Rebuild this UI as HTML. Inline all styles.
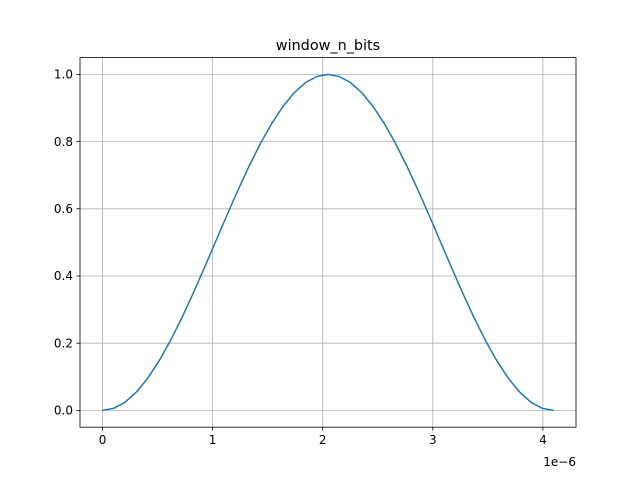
<!DOCTYPE html>
<html><head><meta charset="utf-8">
<style>
body{margin:0;background:#fff}
svg{display:block;font-family:"DejaVu Sans","Liberation Sans",sans-serif}
</style></head>
<body>
<svg id="chart" width="640" height="480" viewBox="0 0 640 480">
<rect width="640" height="480" fill="#fff"/>
<text x="328" y="50" font-size="14.4" text-anchor="middle" fill="#000">window_n_bits</text>
<g id="grid"></g>
<g id="xticks"></g>
<g id="yticks"></g>
<polyline id="line" fill="none" stroke="#1f77b4" stroke-width="1.5" stroke-linejoin="round"/>
<rect x="80" y="57.6" width="496" height="369.6" fill="none" stroke="#000" stroke-width="0.8"/>
<text x="576" y="466" font-size="12" text-anchor="end" fill="#000">1e−6</text>
</svg>
<script>
const xTicks=[0,1,2,3,4];
const xTickLabels=["0","1","2","3","4"];
const yTicks=[0,0.2,0.4,0.6,0.8,1.0];
const yTickLabels=["0.0","0.2","0.4","0.6","0.8","1.0"];
const xMax=4.096;
const yValues=[0,.0062,.0245,.0545,.0955,.1464,.2061,.2730,.3455,.4218,.5,.5782,.6545,.7270,.7939,.8536,.9045,.9455,.9755,.9938,1,.9938,.9755,.9455,.9045,.8536,.7939,.7270,.6545,.5782,.5,.4218,.3455,.2730,.2061,.1464,.0955,.0545,.0245,.0062,0];
const L=80,R=576,T=57.6,B=427.2;
const xmin=-0.05*xMax,xmaxv=1.05*xMax,ymin=-0.05,ymax=1.05;
const sx=v=>L+(v-xmin)/(xmaxv-xmin)*(R-L);
const sy=v=>B-(v-ymin)/(ymax-ymin)*(B-T);
const NS="http://www.w3.org/2000/svg";
function mk(tag,attrs,parent){const e=document.createElementNS(NS,tag);for(const k in attrs)e.setAttribute(k,attrs[k]);parent.appendChild(e);return e;}
const grid=document.getElementById('grid'),xg=document.getElementById('xticks'),yg=document.getElementById('yticks');
xTicks.forEach((t,i)=>{const x=sx(t);
 const g=mk('line',{x1:x,x2:x,y1:T,y2:B,stroke:'#b0b0b0','stroke-width':0.8},grid);
 
 
 const tk=mk('line',{x1:x,x2:x,y1:B,y2:B+3.5,stroke:'#000','stroke-width':0.8},xg);
 
 
 const tx=mk('text',{x:x,y:B+17,'font-size':12,'text-anchor':'middle'},xg);tx.textContent=xTickLabels[i];
 
 
});
yTicks.forEach((t,i)=>{const y=sy(t);
 const g=mk('line',{x1:L,x2:R,y1:y,y2:y,stroke:'#b0b0b0','stroke-width':0.8},grid);
 
 
 const tk=mk('line',{x1:L-3.5,x2:L,y1:y,y2:y,stroke:'#000','stroke-width':0.8},yg);
 
 
 const tx=mk('text',{x:L-7,y:y+4.2,'font-size':12,'text-anchor':'end'},yg);tx.textContent=yTickLabels[i];
 
 
});
const n=yValues.length;
document.getElementById('line').setAttribute('points',yValues.map((v,i)=>sx(i/(n-1)*xMax).toFixed(2)+','+sy(v).toFixed(2)).join(' '));
</script>
</body></html>
